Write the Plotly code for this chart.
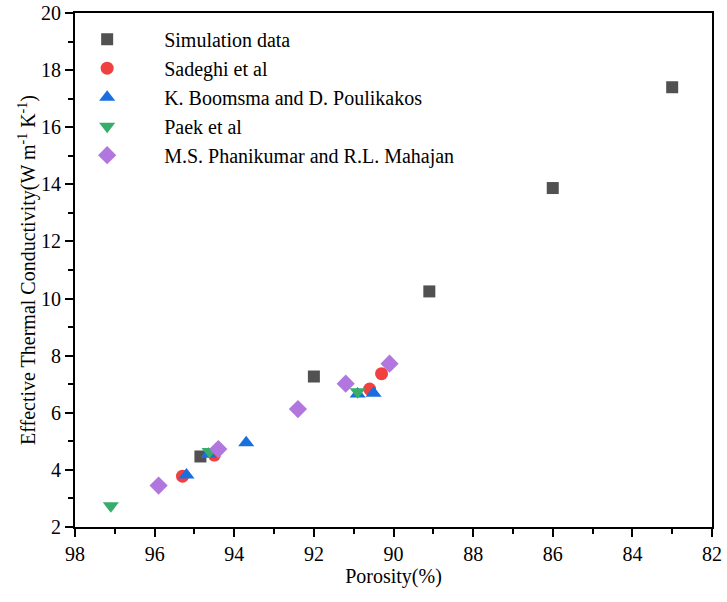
import plotly.graph_objects as go

sim_x = [94.85, 92.0, 89.1, 86.0, 83.0]
sim_y = [4.47, 7.27, 10.25, 13.87, 17.4]
sad_x = [95.3, 94.5, 90.6, 90.3]
sad_y = [3.78, 4.52, 6.83, 7.37]
boo_x = [95.2, 94.65, 93.7, 90.9, 90.5]
boo_y = [3.82, 4.55, 4.95, 6.66, 6.68]
paek_x = [97.1, 94.62, 90.9]
paek_y = [2.74, 4.64, 6.74]
pha_x = [95.9, 94.4, 92.4, 91.2, 90.1]
pha_y = [3.45, 4.73, 6.13, 7.02, 7.72]

names = ["Simulation data", "Sadeghi et al", "K. Boomsma and D. Poulikakos",
         "Paek et al", "M.S. Phanikumar and R.L. Mahajan"]
colors = ["#515151", "#F14040", "#1A6FDF", "#37AD6B", "#B177DE"]
symbols = ["square", "circle", "triangle-up", "triangle-down", "diamond"]
sizes = [12, 13, 14, 14, 14]
xs = [sim_x, sad_x, boo_x, paek_x, pha_x]
ys = [sim_y, sad_y, boo_y, paek_y, pha_y]

fig = go.Figure()
for n, c, s, sz, x, y in zip(names, colors, symbols, sizes, xs, ys):
    fig.add_trace(go.Scatter(x=x, y=y, mode="markers", name=n,
                             marker=dict(color=c, symbol=s, size=sz, line=dict(width=0))))

serif = "Liberation Serif"
axis_common = dict(showline=True, linecolor="black", linewidth=2, mirror=True,
                   ticks="outside", tickcolor="black", tickwidth=2, ticklen=8,
                   showgrid=False, zeroline=False, automargin=False,
                   tickfont=dict(family=serif, size=20, color="black"))
fig.update_xaxes(range=[98, 82], dtick=2, tick0=82,
                 minor=dict(ticks="outside", dtick=1, ticklen=5, tickwidth=2, tickcolor="black"),
                 title=dict(text="Porosity(%)", font=dict(family=serif, size=20, color="black"), standoff=4),
                 **axis_common)
fig.update_yaxes(range=[2, 20], dtick=2, tick0=2,
                 minor=dict(ticks="outside", dtick=1, ticklen=5, tickwidth=2, tickcolor="black"),
                 title=dict(text="Effective Thermal Conductivity(W m<sup>-1</sup> K<sup>-1</sup>)",
                            font=dict(family=serif, size=20, color="black"), standoff=0),
                 **axis_common)
fig.update_layout(width=727, height=602, plot_bgcolor="white", paper_bgcolor="white",
                  font=dict(family=serif, size=20, color="black"),
                  margin=dict(l=75, r=15, t=13, b=75),
                  legend=dict(x=-0.039, y=0.987, xanchor="left", yanchor="top",
                              font=dict(family=serif, size=20, color="black"),
                              bgcolor="rgba(0,0,0,0)", itemwidth=104, tracegroupgap=0))

post = "document.body.style.margin='0';"
fig.write_html("out.html", config={"displayModeBar": False}, post_script=post)
